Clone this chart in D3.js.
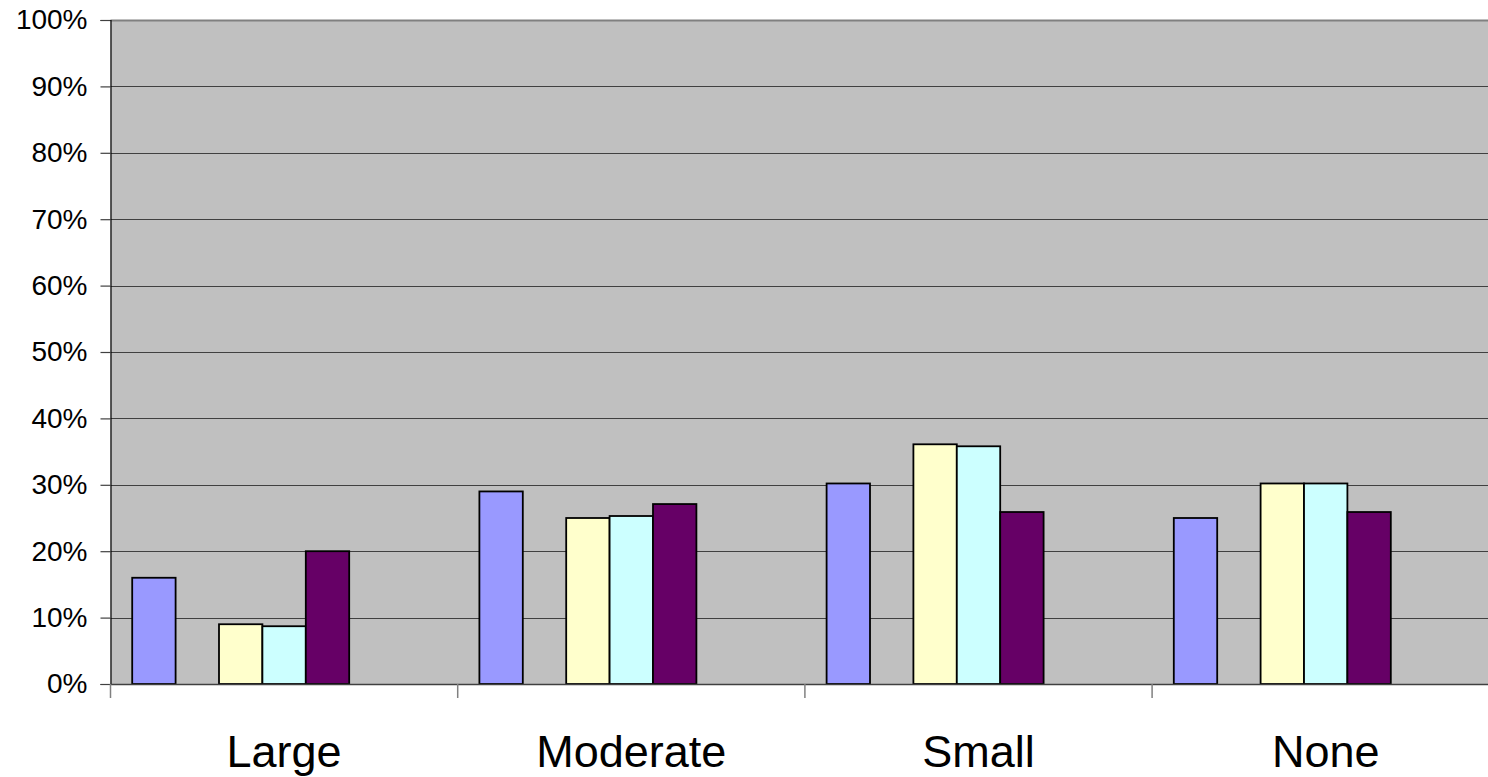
<!DOCTYPE html>
<html>
<head>
<meta charset="utf-8">
<script src="https://cdn.jsdelivr.net/npm/d3@7"></script>
<style>
  html, body { margin: 0; padding: 0; background: #ffffff; overflow: hidden; }
  svg { display: block; font-family: "Liberation Sans", Arial, sans-serif; }
</style>
</head>
<body>
<svg id="chart" width="1488" height="777"></svg>
<script>
// ---- data ----
const categories = ["Large", "Moderate", "Small", "None"];
// slots of the clustered group (some series are empty in the original)
const seriesSlots = ["Series 1", "Series 2", "Series 3", "Series 4", "Series 5", "Series 6", "Series 7"];
const series1 = [16.0, 29.0, 30.2, 25.0];
const series3 = [9.0, 25.0, 36.1, 30.2];
const series4 = [8.7, 25.3, 35.8, 30.2];
const series5 = [20.0, 27.1, 25.9, 25.9];
const yTicks = [0, 10, 20, 30, 40, 50, 60, 70, 80, 90, 100];
const tickLabels = ["0%", "10%", "20%", "30%", "40%", "50%", "60%", "70%", "80%", "90%", "100%"];

const seriesData = [
  { name: "Series 1", values: series1, color: "#9999FF" },
  { name: "Series 3", values: series3, color: "#FFFFCC" },
  { name: "Series 4", values: series4, color: "#CCFFFF" },
  { name: "Series 5", values: series5, color: "#660066" }
];

// ---- layout ----
const plotLeft = 110.5, plotTop = 20, plotBottom = 684;
const catWidth = 347.2;
const plotRight = plotLeft + catWidth * categories.length;

const svg = d3.select("#chart");

const x0 = d3.scaleBand().domain(categories).range([plotLeft, plotRight]).paddingInner(0).paddingOuter(0);
const x1 = d3.scaleBand().domain(seriesSlots).range([0, x0.bandwidth()]).paddingInner(0).paddingOuter(0.5);
const y = d3.scaleLinear().domain([0, 100]).range([plotBottom, plotTop]);

// plot background
svg.append("rect")
  .attr("x", plotLeft).attr("y", plotTop)
  .attr("width", plotRight - plotLeft).attr("height", plotBottom - plotTop)
  .attr("fill", "#C0C0C0");

// gridlines
svg.append("g")
  .selectAll("line")
  .data(yTicks.filter(d => d > 0 && d < 100))
  .join("line")
  .attr("x1", plotLeft).attr("x2", plotRight)
  .attr("y1", d => Math.round(y(d)) + 0.5).attr("y2", d => Math.round(y(d)) + 0.5)
  .attr("stroke", "#404040").attr("stroke-width", 1);

// top border
svg.append("line")
  .attr("x1", plotLeft).attr("x2", plotRight)
  .attr("y1", plotTop + 0.5).attr("y2", plotTop + 0.5)
  .attr("stroke", "#808080").attr("stroke-width", 2);

// bars
const gBars = svg.append("g");
seriesData.forEach(s => {
  gBars.append("g")
    .selectAll("rect")
    .data(categories.map((c, i) => ({ cat: c, v: s.values[i] })))
    .join("rect")
    .attr("x", d => x0(d.cat) + x1(s.name))
    .attr("y", d => y(d.v))
    .attr("width", x1.bandwidth())
    .attr("height", d => y(0) - y(d.v))
    .attr("fill", s.color)
    .attr("stroke", "#000000")
    .attr("stroke-width", 1.8);
});

// y axis
const yAxis = d3.axisLeft(y)
  .tickValues(yTicks)
  .tickFormat((d, i) => tickLabels[i])
  .tickSize(10)
  .tickPadding(13);
const gy = svg.append("g").attr("transform", `translate(${plotLeft},0)`).call(yAxis);
gy.select(".domain").attr("stroke", "#000000").attr("stroke-width", 1.2);
gy.selectAll(".tick line").attr("stroke", "#404040").attr("stroke-width", 1.2);
gy.selectAll(".tick text")
  .attr("font-size", 28)
  .attr("fill", "#000000")
  .attr("font-family", "'Liberation Sans', Arial, sans-serif");

// x axis
const boundaries = d3.range(categories.length + 1).map(i => plotLeft + i * catWidth);
svg.append("line")
  .attr("x1", plotLeft).attr("x2", plotRight)
  .attr("y1", plotBottom + 0.5).attr("y2", plotBottom + 0.5)
  .attr("stroke", "#404040").attr("stroke-width", 1.5);
svg.append("g")
  .selectAll("line")
  .data(boundaries)
  .join("line")
  .attr("x1", d => d).attr("x2", d => d)
  .attr("y1", plotBottom).attr("y2", plotBottom + 14)
  .attr("stroke", "#808080").attr("stroke-width", 1.5);

svg.append("g")
  .selectAll("text")
  .data(categories)
  .join("text")
  .attr("x", d => x0(d) + x0.bandwidth() / 2)
  .attr("y", 767)
  .attr("text-anchor", "middle")
  .attr("font-size", 45)
  .attr("fill", "#000000")
  .text(d => d);
</script>
</body>
</html>
